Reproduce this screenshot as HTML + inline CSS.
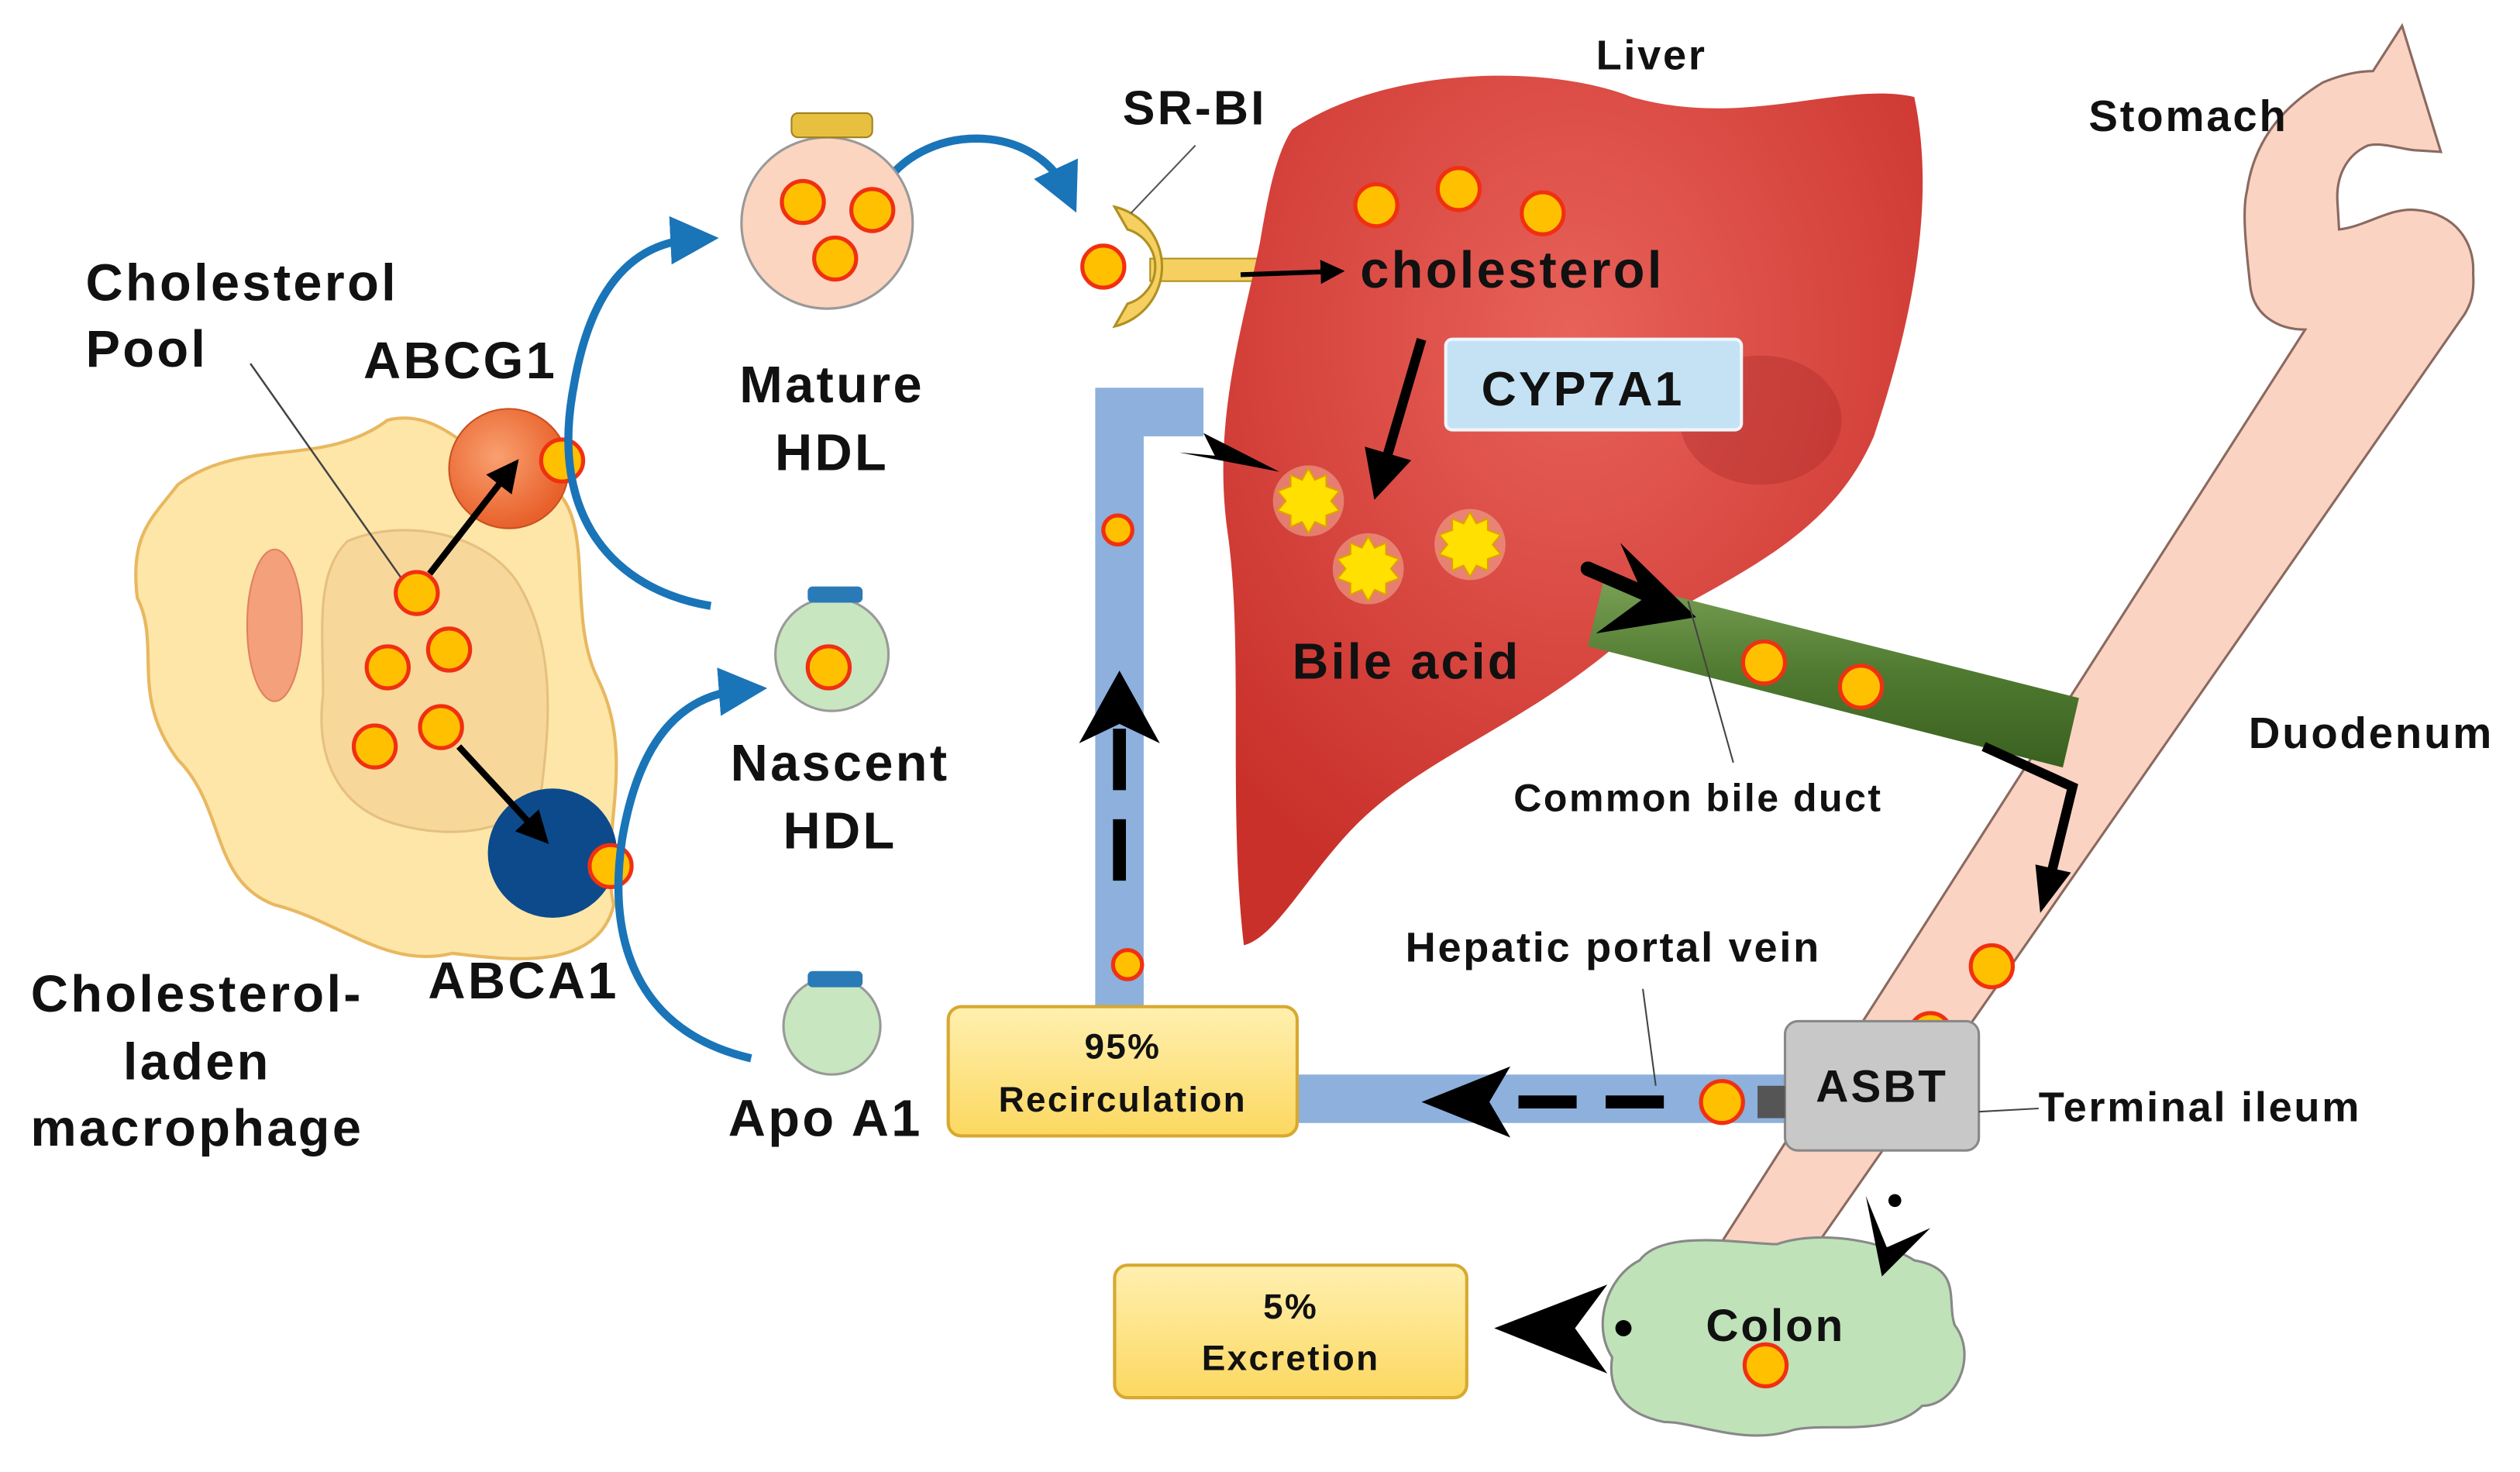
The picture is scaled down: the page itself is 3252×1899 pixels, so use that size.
<!DOCTYPE html>
<html><head><meta charset="utf-8"><style>
html,body{margin:0;padding:0;background:#fff;}
svg{display:block;}
text{font-family:"Liberation Sans",Arial,sans-serif;font-weight:bold;fill:#111;letter-spacing:0.05em;}
</style></head><body>
<svg width="3252" height="1899" viewBox="0 0 1560 911" preserveAspectRatio="none" xmlns="http://www.w3.org/2000/svg">
<defs>
<radialGradient id="liv" cx="0.5" cy="0.3" r="0.7"><stop offset="0" stop-color="#e8625a"/><stop offset="1" stop-color="#c9302a"/></radialGradient>
<radialGradient id="og" cx="0.4" cy="0.4" r="0.6"><stop offset="0" stop-color="#f9a070"/><stop offset="1" stop-color="#e8602a"/></radialGradient>
<linearGradient id="gr" x1="0" y1="0" x2="0" y2="1"><stop offset="0" stop-color="#7aa055"/><stop offset="0.5" stop-color="#4f7a30"/><stop offset="1" stop-color="#3a6020"/></linearGradient>
<linearGradient id="yb" x1="0" y1="0" x2="0" y2="1"><stop offset="0" stop-color="#fff0b0"/><stop offset="1" stop-color="#fcd860"/></linearGradient>
<marker id="bh" markerWidth="6" markerHeight="6" refX="3" refY="3" orient="auto" markerUnits="strokeWidth"><path d="M0,0 L6,3 L0,6 z" fill="#1a74b8"/></marker>
<marker id="kh" markerWidth="5" markerHeight="5" refX="2.5" refY="2.5" orient="auto" markerUnits="strokeWidth"><path d="M0,0 L5,2.5 L0,5 z" fill="#000"/></marker>
<g id="dot"><circle r="13" fill="#ffc000" stroke="#f03010" stroke-width="2.5"/></g>
<g id="sdot"><circle r="9" fill="#ffc000" stroke="#f03010" stroke-width="2.5"/></g>
<g id="spk"><circle r="22" fill="#f6b8a0" opacity="0.5"/><polygon points="0,-20 4,-13 11,-16 11,-9 19,-6 14,0 19,6 11,9 11,16 4,13 0,20 -4,13 -11,16 -11,9 -19,6 -14,0 -19,-6 -11,-9 -11,-16 -4,-13" fill="#ffe000" stroke="#e0a000" stroke-width="1"/></g>
</defs>

<!-- intestine -->
<path d="M1487,16 L1511,94 L1495,93 C1485,92 1475,88 1466,90 C1452,96 1446,110 1447,125 L1448,142 C1465,140 1480,128 1496,130 C1520,132 1532,150 1531,169 C1532,185 1528,190 1526,194 L1125,770 L1065,770 L1427,204 C1410,204 1395,195 1393,177 C1390,150 1388,130 1391,118 C1395,90 1410,68 1438,51 C1450,46 1460,44 1469,44 Z" fill="#fbd3c3" stroke="#8a6a60" stroke-width="1.5"/>
<use href="#dot" x="1233" y="598"/><use href="#dot" x="1195" y="640"/>

<!-- macrophage -->
<path d="M110,300 C150,270 200,290 240,260 C280,250 300,300 340,300 C370,320 350,380 370,420 C395,470 370,520 380,560 C370,600 320,595 280,590 C240,600 210,570 170,560 C130,545 140,500 110,470 C80,430 100,400 85,370 C80,330 95,320 110,300 Z" fill="#fde6a8" stroke="#e8b860" stroke-width="2"/>
<path d="M215,335 C250,320 300,330 320,360 C345,400 340,450 335,490 C320,515 280,520 245,510 C210,500 195,470 200,430 C200,390 195,355 215,335 Z" fill="#f8d89a" stroke="#e6c080" stroke-width="1.5"/>
<ellipse cx="170" cy="387" rx="17" ry="47" fill="#f4a07a" stroke="#e08060"/>
<line x1="155" y1="225" x2="250" y2="360" stroke="#444" stroke-width="1.2"/>
<circle cx="315" cy="290" r="37" fill="url(#og)" stroke="#c85020"/>
<circle cx="342" cy="528" r="40" fill="#0c4a8c"/>
<use href="#dot" x="348" y="285"/><use href="#dot" x="378" y="536"/>
<use href="#dot" x="258" y="367"/><use href="#dot" x="240" y="413"/><use href="#dot" x="278" y="402"/><use href="#dot" x="273" y="450"/><use href="#dot" x="232" y="462"/>
<line x1="266" y1="355" x2="315" y2="292" stroke="#000" stroke-width="4" marker-end="url(#kh)"/>
<line x1="284" y1="462" x2="333" y2="515" stroke="#000" stroke-width="4" marker-end="url(#kh)"/>

<!-- blue curved arrows -->
<path d="M440,375 C380,365 340,320 355,240 C365,180 390,150 430,148" fill="none" stroke="#1a74b8" stroke-width="5" marker-end="url(#bh)"/>
<path d="M465,655 C400,640 375,590 385,520 C395,460 420,430 460,427" fill="none" stroke="#1a74b8" stroke-width="5" marker-end="url(#bh)"/>
<path d="M545,118 C570,75 640,75 660,118" fill="none" stroke="#1a74b8" stroke-width="5" marker-end="url(#bh)"/>

<!-- HDLs -->
<circle cx="512" cy="138" r="53" fill="#fbd5c0" stroke="#999" stroke-width="1.5"/>
<rect x="490" y="70" width="50" height="15" rx="4" fill="#e8c040" stroke="#a08020"/>
<use href="#dot" x="497" y="125"/><use href="#dot" x="540" y="130"/><use href="#dot" x="517" y="160"/>
<circle cx="515" cy="405" r="35" fill="#c8e6c0" stroke="#999" stroke-width="1.5"/>
<rect x="500" y="363" width="34" height="10" rx="3" fill="#2a7ab8"/>
<use href="#dot" x="513" y="413"/>
<circle cx="515" cy="635" r="30" fill="#c8e6c0" stroke="#999" stroke-width="1.5"/>
<rect x="500" y="601" width="34" height="10" rx="3" fill="#2a7ab8"/>

<!-- SR-BI -->
<rect x="712" y="160" width="70" height="14" fill="#f5d060" stroke="#b09020"/>
<path d="M690,128 A38,38 0 0 1 690,202 L698,188 A24,24 0 0 0 698,142 Z" fill="#f5d060" stroke="#b09020" stroke-width="1.5"/>
<use href="#dot" x="683" y="165"/>
<line x1="700" y1="132" x2="740" y2="90" stroke="#555" stroke-width="1"/>

<!-- liver -->
<path d="M800,80 C860,40 960,40 1010,60 C1080,80 1140,50 1185,60 C1200,130 1180,210 1160,270 C1130,340 1060,360 1000,400 C940,450 880,470 840,510 C810,540 790,580 770,585 C760,500 770,400 760,330 C750,260 770,200 780,150 C785,120 790,95 800,80 Z" fill="url(#liv)"/>
<ellipse cx="1090" cy="260" rx="50" ry="40" fill="#a02020" opacity="0.3"/>
<use href="#dot" x="852" y="127"/><use href="#dot" x="903" y="117"/><use href="#dot" x="955" y="132"/>
<line x1="768" y1="170" x2="825" y2="168" stroke="#000" stroke-width="3" marker-end="url(#kh)"/>
<text x="842" y="178" font-size="32">cholesterol</text>
<rect x="895" y="210" width="183" height="56" rx="4" fill="#c4e2f4" stroke="#eef6fb" stroke-width="2"/>
<text x="917" y="251" font-size="30">CYP7A1</text>
<line x1="880" y1="210" x2="855" y2="295" stroke="#000" stroke-width="6" marker-end="url(#kh)"/>
<use href="#spk" x="810" y="310"/><use href="#spk" x="847" y="352"/><use href="#spk" x="910" y="337"/>
<text x="800" y="420" font-size="31">Bile acid</text>

<!-- bile duct -->
<polygon points="993,358 1287,432 1277,475 983,400" fill="url(#gr)"/>
<line x1="983" y1="352" x2="1020" y2="368" stroke="#000" stroke-width="9" stroke-linecap="round"/>
<polygon points="1050,382 1003,336 1018,370 988,392" fill="#000"/>
<use href="#dot" x="1092" y="410"/><use href="#dot" x="1152" y="425"/>
<line x1="1045" y1="372" x2="1073" y2="472" stroke="#444" stroke-width="1"/>
<text x="937" y="502" font-size="24">Common  bile duct</text>
<polyline points="1228,462 1283,487 1270,540" fill="none" stroke="#000" stroke-width="6" stroke-linejoin="miter"/>
<polygon points="1260,535 1282,540 1263,565" fill="#000"/>

<!-- portal vein -->
<path d="M693,690 L693,255 L745,255" fill="none" stroke="#8db0dc" stroke-width="30"/>
<line x1="800" y1="680" x2="1108" y2="680" stroke="#8db0dc" stroke-width="30"/>
<polygon points="730,280 792,292 745,268 752,282" fill="#000"/>
<use href="#sdot" x="692" y="328"/><use href="#sdot" x="698" y="597"/><use href="#dot" x="1066" y="682"/>
<line x1="693" y1="545" x2="693" y2="450" stroke="#000" stroke-width="8" stroke-dasharray="38,18"/>
<path d="M668,460 L693,415 L718,460 L693,448 Z" fill="#000"/>
<line x1="1030" y1="682" x2="915" y2="682" stroke="#000" stroke-width="8" stroke-dasharray="36,18"/>
<path d="M935,660 L880,682 L935,704 L922,682 Z" fill="#000"/>
<line x1="1017" y1="612" x2="1025" y2="672" stroke="#444" stroke-width="1"/>
<rect x="587" y="623" width="216" height="80" rx="8" fill="url(#yb)" stroke="#d8a830" stroke-width="2"/>
<text x="695" y="655" font-size="22" text-anchor="middle">95%</text>
<text x="695" y="688" font-size="22" text-anchor="middle">Recirculation</text>

<!-- ASBT -->
<rect x="1105" y="632" width="120" height="80" rx="8" fill="#c8c8c8" stroke="#888" stroke-width="1.5"/>
<path d="M1088,672 L1105,672 L1105,692 L1088,692 Z" fill="#555"/>
<text x="1165" y="682" font-size="28" text-anchor="middle">ASBT</text>
<line x1="1225" y1="688" x2="1262" y2="686" stroke="#444" stroke-width="1"/>
<text x="1262" y="694" font-size="26">Terminal ileum</text>

<!-- colon -->
<path d="M1015,780 C1030,760 1080,770 1100,770 C1130,760 1170,770 1185,780 C1215,785 1205,805 1210,820 C1225,840 1210,870 1190,870 C1170,890 1130,880 1110,885 C1080,895 1050,880 1030,880 C1005,875 995,860 998,840 C985,820 995,790 1015,780 Z" fill="#bfe2b8" stroke="#888" stroke-width="1.5"/>
<use href="#dot" x="1093" y="845"/>
<text x="1056" y="830" font-size="28">Colon</text>
<path d="M1155,740 L1165,790 L1195,760 L1168,772 Z" fill="#000"/>
<circle cx="1173" cy="743" r="4" fill="#000"/>
<path d="M995,795 L925,822 L995,850 L975,822 Z" fill="#000"/>
<circle cx="1005" cy="822" r="5" fill="#000"/>
<rect x="690" y="783" width="218" height="82" rx="8" fill="url(#yb)" stroke="#d8a830" stroke-width="2"/>
<text x="799" y="816" font-size="22" text-anchor="middle">5%</text>
<text x="799" y="848" font-size="22" text-anchor="middle">Excretion</text>

<!-- labels -->
<text x="53" y="186" font-size="32">Cholesterol</text>
<text x="53" y="227" font-size="32">Pool</text>
<text x="225" y="234" font-size="32">ABCG1</text>
<text x="265" y="618" font-size="32">ABCA1</text>
<text x="122" y="626" font-size="32" text-anchor="middle">Cholesterol-</text>
<text x="122" y="668" font-size="32" text-anchor="middle">laden</text>
<text x="122" y="709" font-size="32" text-anchor="middle">macrophage</text>
<text x="515" y="249" font-size="32" text-anchor="middle">Mature</text>
<text x="515" y="291" font-size="32" text-anchor="middle">HDL</text>
<text x="520" y="483" font-size="32" text-anchor="middle">Nascent</text>
<text x="520" y="525" font-size="32" text-anchor="middle">HDL</text>
<text x="511" y="703" font-size="32" text-anchor="middle">Apo A1</text>
<text x="695" y="77" font-size="30">SR-BI</text>
<text x="988" y="43" font-size="26">Liver</text>
<text x="1293" y="81" font-size="27">Stomach</text>
<text x="1392" y="463" font-size="27">Duodenum</text>
<text x="870" y="595" font-size="26">Hepatic portal vein</text>
</svg>
</body></html>
